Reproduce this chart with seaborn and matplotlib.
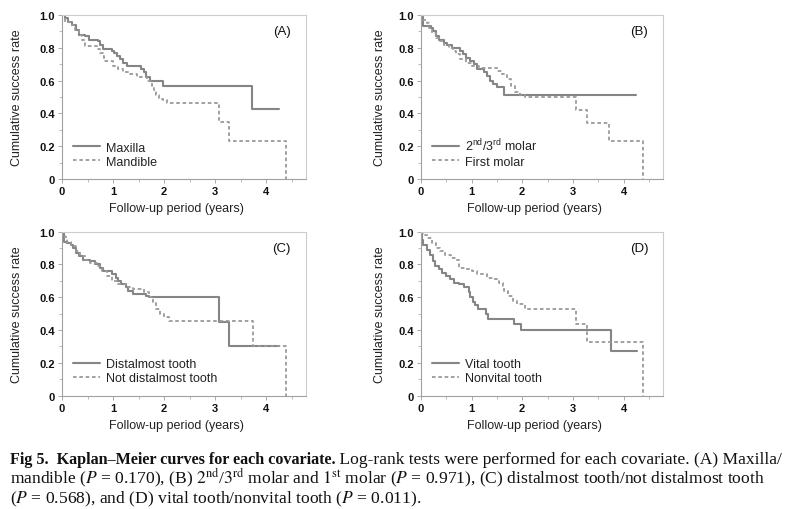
import matplotlib
matplotlib.use("Agg")
import matplotlib.pyplot as plt
import seaborn as sns
import pandas as pd

# ---------------- data ----------------
a_max_t = [0, 0.05, 0.12, 0.2, 0.27, 0.33, 0.45, 0.52, 0.7, 0.75, 0.8, 0.97, 1.02, 1.08, 1.13, 1.2, 1.27, 1.55, 1.6, 1.65, 1.72, 1.98, 3.73, 4.25]
a_max_s = [1.0, 0.98, 0.96, 0.94, 0.91, 0.88, 0.87, 0.85, 0.84, 0.82, 0.79, 0.78, 0.77, 0.75, 0.73, 0.71, 0.69, 0.67, 0.65, 0.62, 0.60, 0.565, 0.425, 0.425]
a_man_t = [0, 0.06, 0.19, 0.26, 0.33, 0.4, 0.46, 0.69, 0.75, 0.8, 0.83, 1.0, 1.1, 1.2, 1.34, 1.47, 1.67, 1.76, 1.8, 1.85, 1.9, 1.98, 2.06, 3.07, 3.27, 4.38]
a_man_s = [1.0, 0.96, 0.94, 0.91, 0.88, 0.85, 0.81, 0.79, 0.77, 0.75, 0.72, 0.69, 0.67, 0.65, 0.64, 0.62, 0.60, 0.57, 0.54, 0.51, 0.49, 0.48, 0.465, 0.35, 0.23, 0.0]

b_m23_t = [0, 0.04, 0.2, 0.25, 0.3, 0.35, 0.45, 0.51, 0.61, 0.77, 0.84, 0.9, 0.97, 1.04, 1.1, 1.24, 1.3, 1.37, 1.43, 1.5, 1.64, 4.25]
b_m23_s = [1.0, 0.93, 0.92, 0.90, 0.87, 0.85, 0.83, 0.82, 0.80, 0.78, 0.76, 0.74, 0.72, 0.70, 0.67, 0.65, 0.63, 0.60, 0.58, 0.56, 0.51, 0.51]
b_m1_t = [0, 0.05, 0.12, 0.17, 0.22, 0.3, 0.38, 0.45, 0.55, 0.63, 0.7, 0.78, 0.9, 1.0, 1.15, 1.5, 1.6, 1.7, 1.77, 1.85, 1.95, 2.05, 3.07, 3.27, 3.72, 4.38]
b_m1_s = [1.0, 0.97, 0.95, 0.92, 0.89, 0.86, 0.84, 0.82, 0.80, 0.78, 0.76, 0.73, 0.71, 0.69, 0.675, 0.66, 0.64, 0.61, 0.57, 0.53, 0.51, 0.50, 0.42, 0.34, 0.23, 0.0]

c_dis_t = [0, 0.03, 0.1, 0.17, 0.22, 0.27, 0.33, 0.42, 0.55, 0.65, 0.75, 0.8, 0.98, 1.05, 1.1, 1.15, 1.25, 1.3, 1.4, 1.65, 1.7, 3.08, 3.27, 4.25]
c_dis_s = [1.0, 0.94, 0.93, 0.92, 0.90, 0.87, 0.85, 0.83, 0.82, 0.80, 0.78, 0.76, 0.74, 0.72, 0.70, 0.68, 0.66, 0.64, 0.62, 0.61, 0.60, 0.45, 0.30, 0.30]
c_not_t = [0, 0.05, 0.1, 0.18, 0.27, 0.35, 0.45, 0.55, 0.7, 0.78, 0.88, 0.98, 1.1, 1.25, 1.4, 1.6, 1.7, 1.78, 1.85, 1.92, 2.0, 2.1, 3.75, 4.38]
c_not_s = [1.0, 0.97, 0.94, 0.91, 0.88, 0.85, 0.83, 0.81, 0.79, 0.76, 0.73, 0.70, 0.68, 0.66, 0.65, 0.63, 0.60, 0.57, 0.53, 0.50, 0.48, 0.455, 0.30, 0.0]

d_vit_t = [0, 0.02, 0.05, 0.12, 0.18, 0.25, 0.28, 0.35, 0.42, 0.5, 0.57, 0.65, 0.75, 0.85, 0.95, 0.98, 1.02, 1.07, 1.12, 1.28, 1.32, 1.83, 1.97, 3.75, 4.27]
d_vit_s = [1.0, 0.95, 0.92, 0.89, 0.86, 0.82, 0.79, 0.77, 0.75, 0.73, 0.71, 0.69, 0.68, 0.665, 0.63, 0.60, 0.57, 0.55, 0.53, 0.50, 0.47, 0.44, 0.40, 0.27, 0.27]
d_non_t = [0, 0.05, 0.13, 0.22, 0.3, 0.38, 0.47, 0.6, 0.7, 0.75, 0.88, 1.0, 1.1, 1.3, 1.45, 1.55, 1.62, 1.65, 1.72, 1.82, 1.9, 2.05, 3.07, 3.27, 4.38]
d_non_s = [1.0, 0.98, 0.96, 0.93, 0.90, 0.88, 0.86, 0.84, 0.83, 0.78, 0.77, 0.76, 0.74, 0.72, 0.71, 0.69, 0.67, 0.64, 0.61, 0.58, 0.56, 0.53, 0.44, 0.33, 0.0]

panel_letters = ["(A)", "(B)", "(C)", "(D)"]
labels_solid = ["Maxilla", r"$2^{\mathrm{nd}}$/$3^{\mathrm{rd}}$ molar", "Distalmost tooth", "Vital tooth"]
labels_dashed = ["Mandible", "First molar", "Not distalmost tooth", "Nonvital tooth"]
y_ticks = [0, 0.2, 0.4, 0.6, 0.8, 1.0]
y_tick_labels = ["0", "0.2", "0.4", "0.6", "0.8", "1.0"]
x_ticks = [0, 1, 2, 3, 4]
x_tick_labels = ["0", "1", "2", "3", "4"]
x_label = "Follow-up period (years)"
y_label = "Cumulative success rate"

# ---------------- style ----------------
sns.set_theme(style="white")
plt.rcParams["font.family"] = ["Liberation Sans", "DejaVu Sans"]
plt.rcParams["mathtext.fontset"] = "custom"
plt.rcParams["mathtext.rm"] = "Liberation Sans"
plt.rcParams["mathtext.it"] = "Liberation Sans:italic"
plt.rcParams["mathtext.bf"] = "Liberation Sans:bold"

fig = plt.figure(figsize=(8, 5.1), dpi=100)
positions = [
    [0.0775, 0.647, 0.305, 0.3216],
    [0.526, 0.647, 0.303, 0.3216],
    [0.0775, 0.2222, 0.305, 0.3216],
    [0.526, 0.2222, 0.303, 0.3216],
]
ylabel_pads = [12, 8.5, 12, 8.5]
series = [
    (a_max_t, a_max_s, a_man_t, a_man_s),
    (b_m23_t, b_m23_s, b_m1_t, b_m1_s),
    (c_dis_t, c_dis_s, c_not_t, c_not_s),
    (d_vit_t, d_vit_s, d_non_t, d_non_s),
]
solid_col = "#858585"
dash_col = "#9a9a9a"

for i, pos in enumerate(positions):
    ax = fig.add_axes(pos)
    t1, s1, t2, s2 = series[i]
    df1 = pd.DataFrame({"t": t1, "s": s1})
    df2 = pd.DataFrame({"t": t2, "s": s2})
    sns.lineplot(data=df1, x="t", y="s", ax=ax, estimator=None, sort=False,
                 drawstyle="steps-post", color=solid_col, linewidth=1.5,
                 label=labels_solid[i])
    sns.lineplot(data=df2, x="t", y="s", ax=ax, estimator=None, sort=False,
                 drawstyle="steps-post", color=dash_col, linewidth=1.3,
                 linestyle=(0, (2.0, 1.5)), label=labels_dashed[i])
    ax.set_xlim(0, 4.78)
    ax.set_ylim(0, 1.0)
    ax.set_yticks(y_ticks)
    ax.set_yticklabels(y_tick_labels, fontsize=8, fontweight="bold", color="#111111")
    ax.set_yticks([0.1, 0.3, 0.5, 0.7, 0.9], minor=True)
    ax.set_xticks(x_ticks)
    ax.set_xticklabels(x_tick_labels, fontsize=8, fontweight="bold", color="#111111")
    ax.set_xticks([0.5, 1.5, 2.5, 3.5, 4.5], minor=True)
    ax.tick_params(which="major", direction="out", length=3, width=0.7, color="#aaaaaa", pad=2,
                   left=True, bottom=True)
    ax.tick_params(which="minor", direction="out", length=2, width=0.7, color="#bbbbbb",
                   left=True, bottom=True)
    ax.set_xlabel(x_label, fontsize=9, color="#222222")
    ax.set_ylabel(y_label, fontsize=9, color="#222222", labelpad=ylabel_pads[i])
    ax.xaxis.set_label_coords(0.467, -0.14)
    for side in ["left", "bottom"]:
        ax.spines[side].set_color("#a0a0a0")
        ax.spines[side].set_linewidth(0.8)
    for side in ["top", "right"]:
        ax.spines[side].set_color("#cccccc")
        ax.spines[side].set_linewidth(0.8)
    ax.text(0.9, 0.9, panel_letters[i], transform=ax.transAxes, fontsize=9.5,
            ha="center", va="center", color="#111111")
    leg = ax.legend(loc="lower left", bbox_to_anchor=(0.045, 0.07), frameon=False,
                    fontsize=9, handlelength=2.2, handletextpad=0.45,
                    labelspacing=0.15, borderpad=0, borderaxespad=0)
    for txt in leg.get_texts():
        txt.set_color("#222222")
    ax.grid(False)

# ---------------- caption ----------------
cap_size = 12.6
bold_size = 11.65
serif = ["Liberation Serif", "DejaVu Serif"]
y1 = 1 - 464 / 510
t_bold = fig.text(0.012, y1, "Fig 5.  Kaplan–Meier curves for each covariate.",
                  fontsize=bold_size, family=serif, fontweight="bold", ha="left",
                  va="baseline", color="#111111")
fig.add_artist(matplotlib.text.Annotation(
    " Log-rank tests were performed for each covariate. (A) Maxilla/",
    xy=(1, y1), xycoords=(t_bold, "figure fraction"), va="baseline", ha="left",
    fontsize=cap_size, family=serif, color="#111111"))
fig.text(0.012, 1 - 484 / 510,
         r"mandible ($P$ = 0.170), (B) $2^{\mathrm{nd}}$/$3^{\mathrm{rd}}$ molar and $1^{\mathrm{st}}$ molar ($P$ = 0.971), (C) distalmost tooth/not distalmost tooth",
         fontsize=cap_size, family=serif, ha="left", va="baseline", color="#111111",
         math_fontfamily="stix")
fig.text(0.012, 1 - 503 / 510,
         r"($P$ = 0.568), and (D) vital tooth/nonvital tooth ($P$ = 0.011).",
         fontsize=cap_size, family=serif, ha="left", va="baseline", color="#111111",
         math_fontfamily="stix")

fig.savefig("out.png", dpi=100)
